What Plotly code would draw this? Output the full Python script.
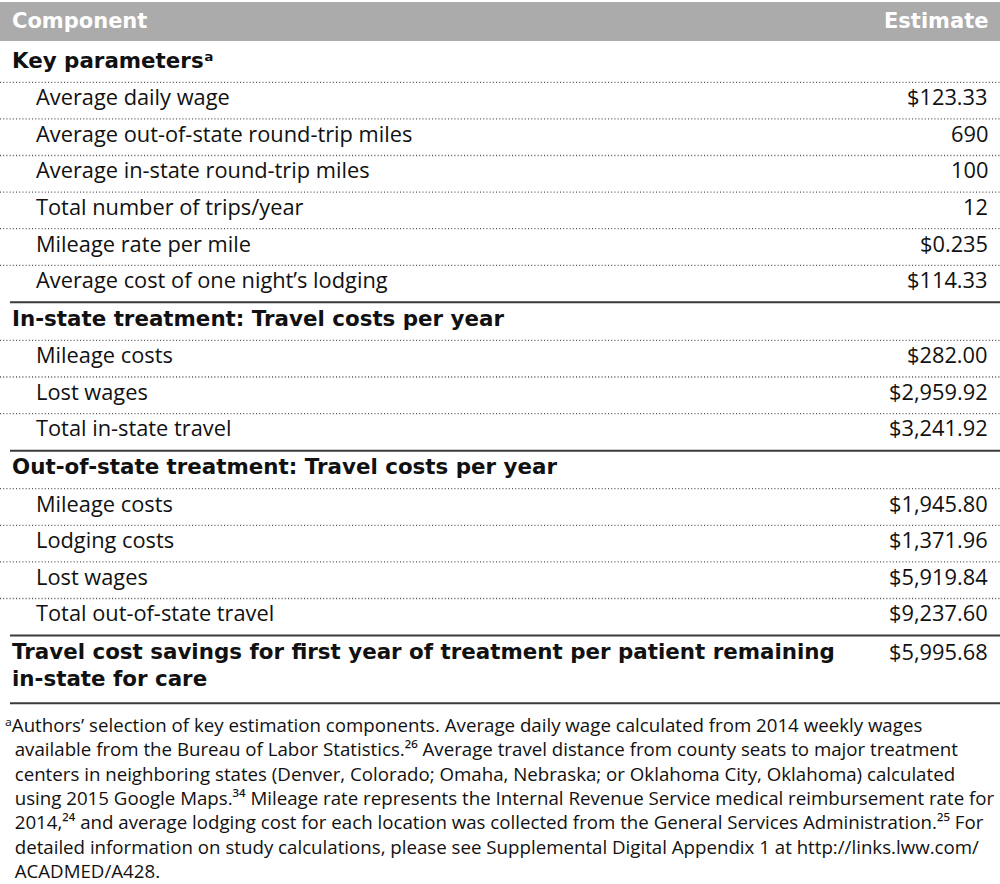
import plotly.graph_objects as go

# ---------------- data ----------------
col_headers = ["Component", "Estimate"]

sections = [
    "Key parameters\u1d43",
    "In-state treatment: Travel costs per year",
    "Out-of-state treatment: Travel costs per year",
]
key_labels = [
    "Average daily wage",
    "Average out-of-state round-trip miles",
    "Average in-state round-trip miles",
    "Total number of trips/year",
    "Mileage rate per mile",
    "Average cost of one night’s lodging",
]
key_values = ["$123.33", "690", "100", "12", "$0.235", "$114.33"]

instate_labels = ["Mileage costs", "Lost wages", "Total in-state travel"]
instate_values = ["$282.00", "$2,959.92", "$3,241.92"]

outstate_labels = ["Mileage costs", "Lodging costs", "Lost wages", "Total out-of-state travel"]
outstate_values = ["$1,945.80", "$1,371.96", "$5,919.84", "$9,237.60"]

final_label_lines = [
    "Travel cost savings for first year of treatment per patient remaining",
    "in-state for care",
]
final_value = "$5,995.68"

footnote_lines = [
    "\u1d43Authors’ selection of key estimation components. Average daily wage calculated from 2014 weekly wages",
    "available from the Bureau of Labor Statistics.²⁶ Average travel distance from county seats to major treatment",
    "centers in neighboring states (Denver, Colorado; Omaha, Nebraska; or Oklahoma City, Oklahoma) calculated",
    "using 2015 Google Maps.³⁴ Mileage rate represents the Internal Revenue Service medical reimbursement rate for",
    "2014,²⁴ and average lodging cost for each location was collected from the General Services Administration.²⁵ For",
    "detailed information on study calculations, please see Supplemental Digital Appendix 1 at http://links.lww.com/",
    "ACADMED/A428.",
]

# ---------------- styling ----------------
W, H = 1000, 884
MAIN_FONT = "Open Sans, Noto Sans, DejaVu Sans, sans-serif"
BOLD_FONT = "DejaVu Sans, Open Sans, sans-serif"
TXT = "#111111"
X_LEFT_HDR = 10
X_LEFT_ITEM = 34
X_RIGHT = 990
PITCH = 36.6
SEC_GAP = 38.5

fig = go.Figure()
ann = []
shapes = []


def text(x, y, s, anchor="left", size=22, bold=False, color=TXT, font=None, align="left"):
    if font is None:
        font = BOLD_FONT if bold else MAIN_FONT
    ann.append(dict(x=x, y=y, xref="x", yref="y", text=s, showarrow=False,
                    xanchor=anchor, yanchor="middle", align=align,
                    font=dict(family=font, size=size, color=color,
                              weight="bold" if bold else "normal")))


def hline(y, dotted=True):
    if dotted:
        shapes.append(dict(type="line", xref="x", yref="y", x0=0, x1=W, y0=y, y1=y,
                           line=dict(color="#555555", width=1.3, dash="1px,2.2px")))
    else:
        shapes.append(dict(type="line", xref="x", yref="y", x0=10, x1=W, y0=y, y1=y,
                           line=dict(color="#3a3a3a", width=2)))


# header band
shapes.append(dict(type="rect", xref="x", yref="y", x0=0, x1=W, y0=2, y1=41,
                   fillcolor="#ababab", line=dict(width=0), layer="below"))
text(X_LEFT_HDR, 20.5, col_headers[0], size=21, bold=True, color="white")
text(X_RIGHT, 20.5, col_headers[1], anchor="right", size=21, bold=True, color="white")

groups = [(sections[0], key_labels, key_values),
          (sections[1], instate_labels, instate_values),
          (sections[2], outstate_labels, outstate_values)]

DY = -2  # visual correction of text centre
BOLD_SIZE = 21.4
y = 62
for gi, (sec, labels, values) in enumerate(groups):
    text(X_LEFT_HDR, y + DY, sec, size=BOLD_SIZE, bold=True)
    prev = y
    for lab, val in zip(labels, values):
        y = prev + PITCH
        hline((prev + y) / 2 + 2, dotted=True)
        text(X_LEFT_ITEM, y + DY, lab, size=21.8)
        text(X_RIGHT, y + DY, val, anchor="right", size=21.8)
        prev = y
    nxt = y + SEC_GAP
    hline((y + nxt) / 2 + 1.5, dotted=False)
    y = nxt

# final row
text(X_LEFT_HDR, y + DY, final_label_lines[0], size=BOLD_SIZE, bold=True)
text(X_LEFT_HDR, y + 27 + DY, final_label_lines[1], size=BOLD_SIZE, bold=True)
text(X_RIGHT, y + DY, final_value, anchor="right", size=21.8)
hline(y + 50, dotted=False)

# footnote (one text block; continuation lines indented)
note = "<br>".join([footnote_lines[0]] + ["\u00a0\u00a0" + s for s in footnote_lines[1:]])
text(3, 797, note, size=18.7, font=MAIN_FONT)

fig.update_layout(
    width=W, height=H,
    margin=dict(l=0, r=0, t=0, b=0),
    paper_bgcolor="white", plot_bgcolor="white",
    xaxis=dict(range=[0, W], visible=False, fixedrange=True),
    yaxis=dict(range=[H, 0], visible=False, fixedrange=True),
    annotations=ann, shapes=shapes, showlegend=False,
)
fig.write_html(
    "out.html",
    config={"displayModeBar": False},
    post_script="document.body.style.margin='0';document.body.style.overflow='hidden';",
)
